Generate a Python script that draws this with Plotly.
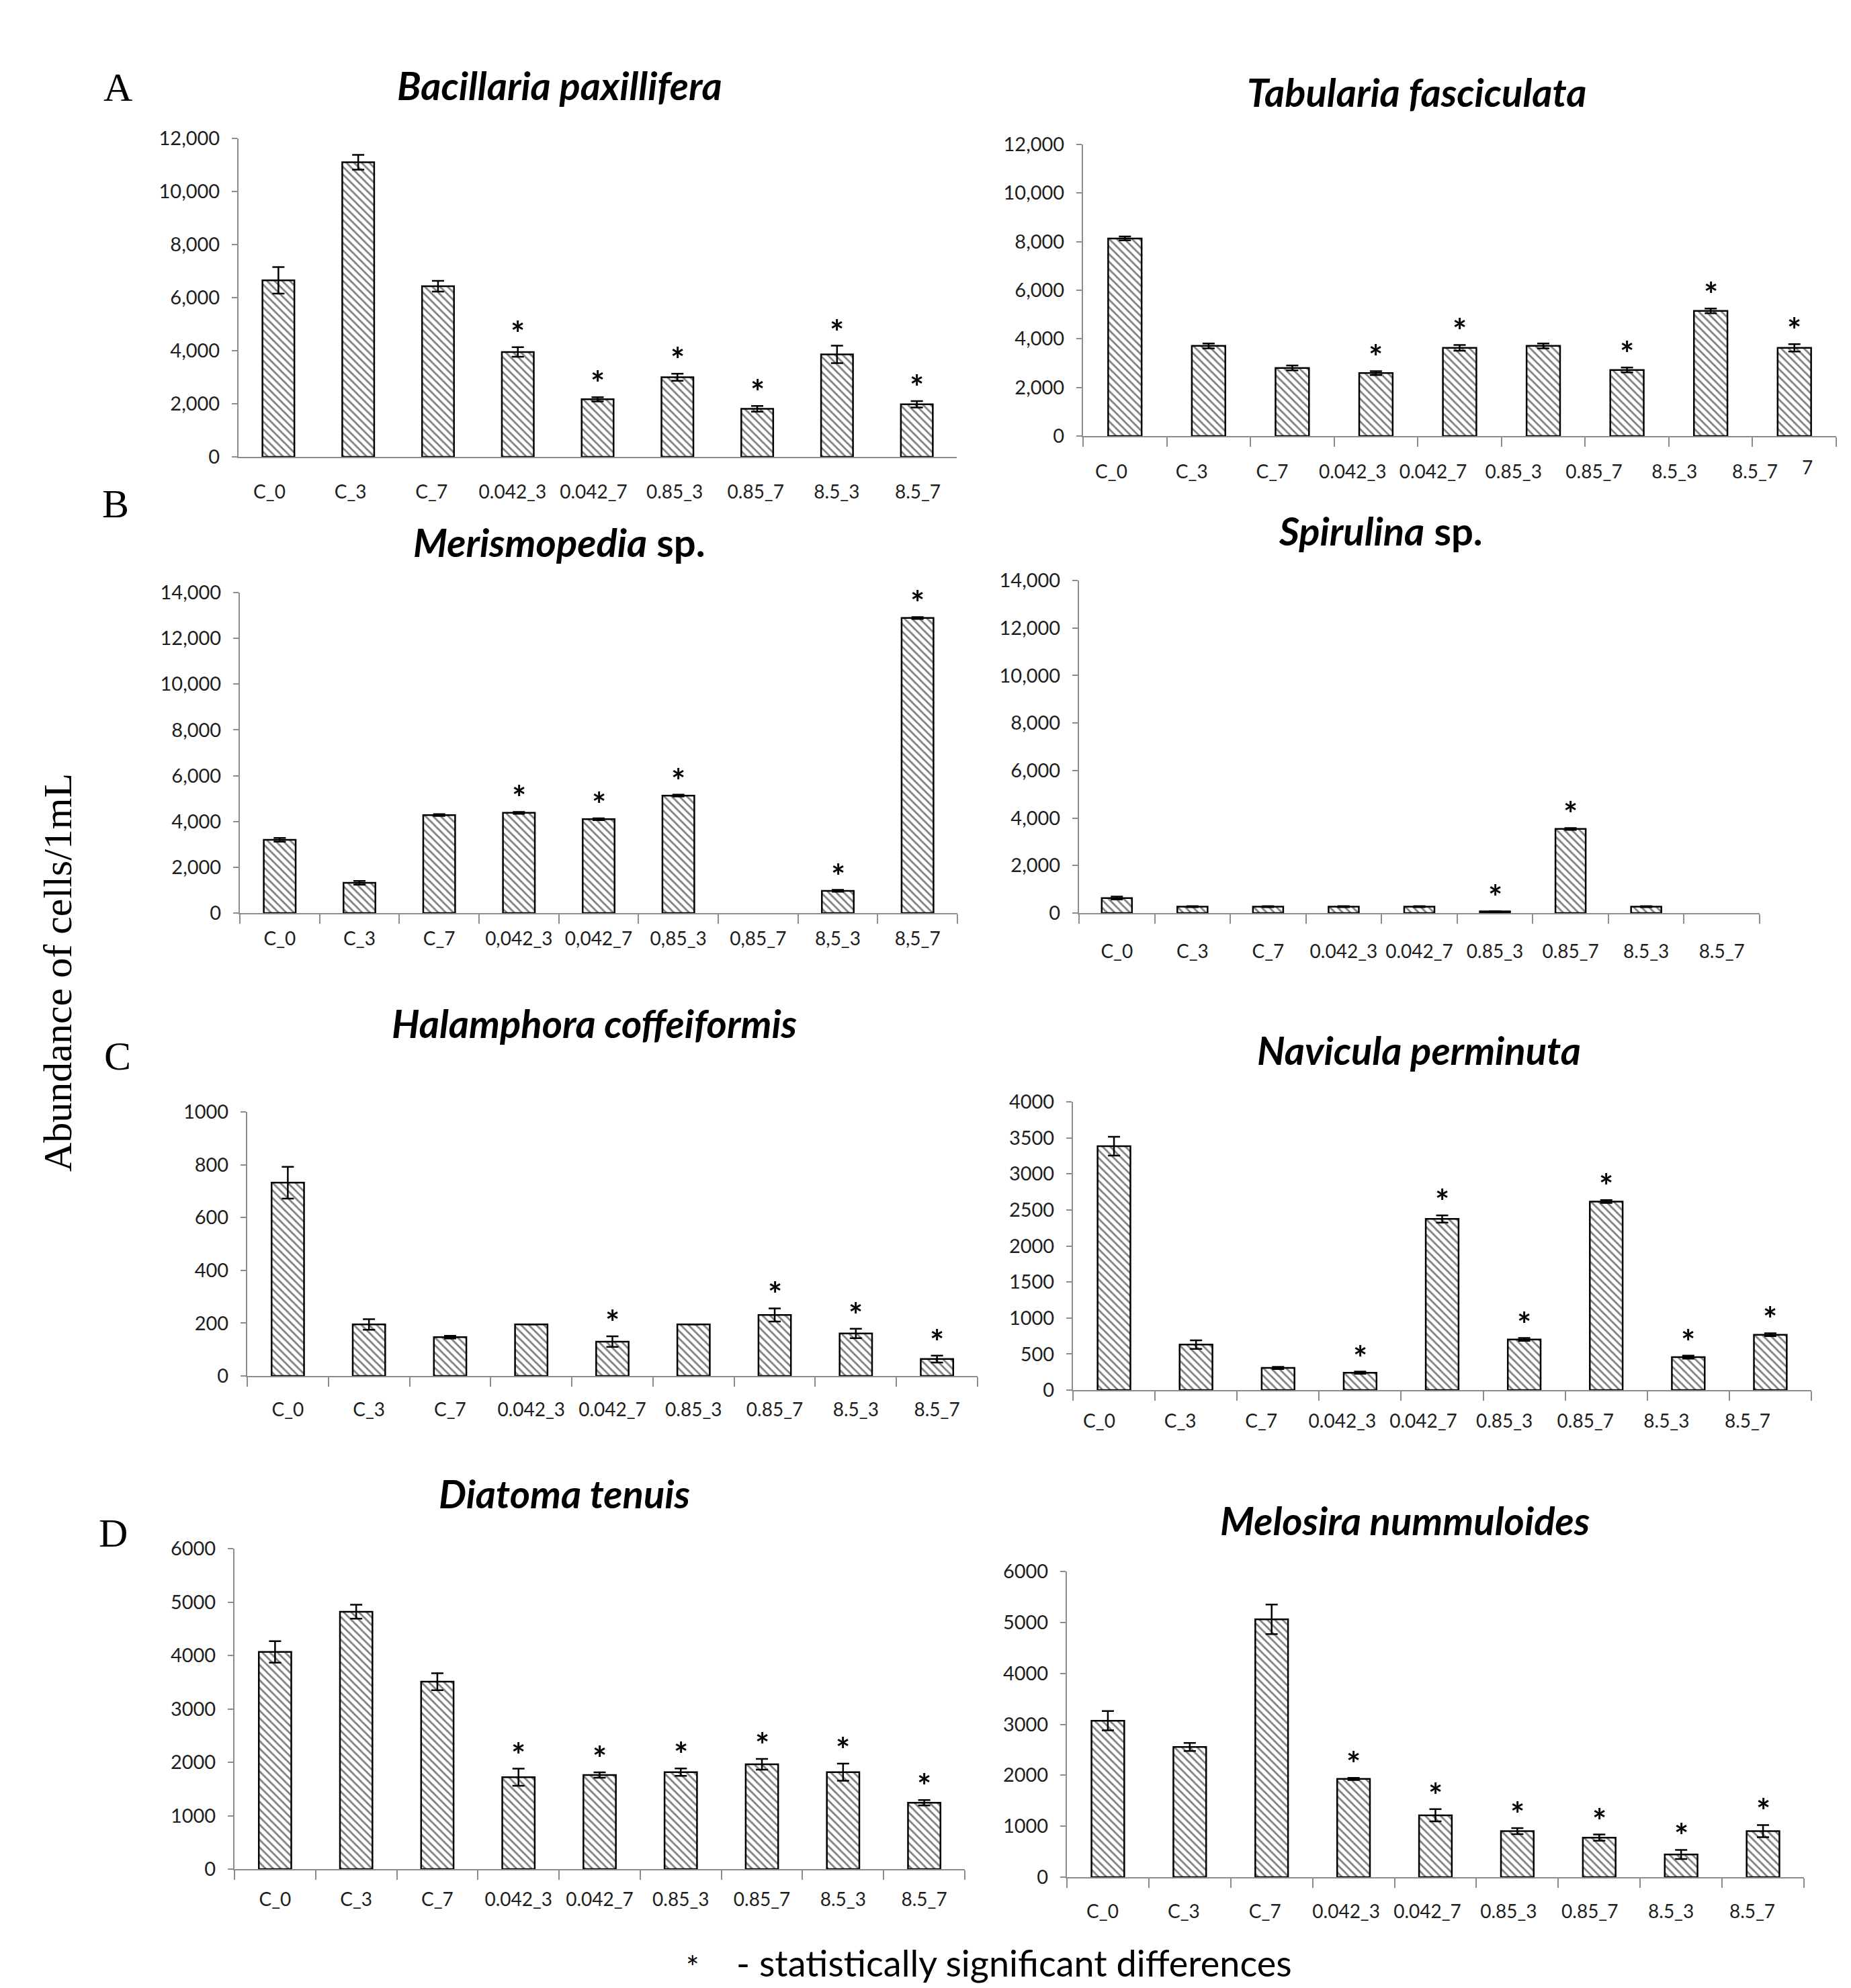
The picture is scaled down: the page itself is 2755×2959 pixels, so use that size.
import plotly.graph_objects as go

W, H = 2755, 2959

categories = ["C_0", "C_3", "C_7", "0.042_3", "0.042_7", "0.85_3", "0.85_7", "8.5_3", "8.5_7"]
categories_comma = ["C_0", "C_3", "C_7", "0,042_3", "0,042_7", "0,85_3", "0,85_7", "8,5_3", "8,5_7"]

bacillaria_mean = [6650, 11100, 6430, 3950, 2170, 3000, 1810, 3860, 1980]
bacillaria_err = [500, 280, 200, 180, 80, 130, 110, 330, 120]
bacillaria_sig = [0, 0, 0, 1, 1, 1, 1, 1, 1]

tabularia_mean = [8130, 3710, 2800, 2590, 3630, 3710, 2720, 5150, 3630]
tabularia_err = [80, 100, 100, 80, 120, 100, 100, 100, 150]
tabularia_sig = [0, 0, 0, 1, 1, 0, 1, 1, 1]

merismopedia_mean = [3200, 1320, 4280, 4380, 4100, 5130, None, 970, 12890]
merismopedia_err = [80, 80, 40, 40, 40, 40, 0, 40, 40]
merismopedia_sig = [0, 0, 0, 1, 1, 1, 0, 1, 1]

spirulina_mean = [630, 270, 270, 270, 270, 70, 3540, 270, None]
spirulina_err = [60, 20, 20, 20, 20, 10, 40, 20, 0]
spirulina_sig = [0, 0, 0, 0, 0, 1, 1, 0, 0]

halamphora_mean = [732, 195, 147, 195, 130, 195, 231, 161, 64]
halamphora_err = [60, 20, 5, 0, 20, 0, 25, 18, 13]
halamphora_sig = [0, 0, 0, 0, 1, 0, 1, 1, 1]

navicula_mean = [3385, 631, 307, 241, 2375, 702, 2616, 457, 768]
navicula_err = [130, 60, 15, 15, 50, 20, 20, 20, 20]
navicula_sig = [0, 0, 0, 1, 1, 1, 1, 1, 1]

diatoma_mean = [4066, 4819, 3508, 1720, 1760, 1815, 1962, 1815, 1243]
diatoma_err = [200, 130, 160, 160, 50, 70, 100, 160, 50]
diatoma_sig = [0, 0, 0, 1, 1, 1, 1, 1, 1]

melosira_mean = [3070, 2555, 5060, 1927, 1214, 903, 776, 445, 903]
melosira_err = [190, 80, 290, 20, 120, 60, 60, 90, 120]
melosira_sig = [0, 0, 0, 1, 1, 1, 1, 1, 1]

# layout per panel: plot box (x0, x1, ytop, ybottom) in px, title centre, x-ticks shown,
# label span (first, last label centre in px, or None = centred on bars), label offset below axis
panels = [
    dict(title="<b><i>Bacillaria paxillifera</i></b>", cats=categories, mean=bacillaria_mean,
         err=bacillaria_err, sig=bacillaria_sig, ymax=12000, dtick=2000, fmt=",d",
         box=(355, 1424, 206, 680), tpos=(833, 127), xticks=False, lspan=(401, 1366), loff=45),
    dict(title="<b><i>Tabularia fasciculata</i></b>", cats=categories, mean=tabularia_mean,
         err=tabularia_err, sig=tabularia_sig, ymax=12000, dtick=2000, fmt=",d",
         box=(1612, 2733, 215, 649), tpos=(2108, 136), xticks=True, lspan=(1654, 2612), loff=46),
    dict(title="<b><i>Merismopedia</i> sp.</b>", cats=categories_comma, mean=merismopedia_mean,
         err=merismopedia_err, sig=merismopedia_sig, ymax=14000, dtick=2000, fmt=",d",
         box=(357, 1425, 882, 1359), tpos=(833, 807), xticks=True, lspan=None, loff=38),
    dict(title="<b><i>Spirulina</i> sp.</b>", cats=categories, mean=spirulina_mean,
         err=spirulina_err, sig=spirulina_sig, ymax=14000, dtick=2000, fmt=",d",
         box=(1606, 2619, 864, 1359), tpos=(2055, 789), xticks=True, lspan=None, loff=57),
    dict(title="<b><i>Halamphora coffeiformis</i></b>", cats=categories, mean=halamphora_mean,
         err=halamphora_err, sig=halamphora_sig, ymax=1000, dtick=200, fmt="d",
         box=(368, 1455, 1655, 2048), tpos=(884, 1522), xticks=True, lspan=None, loff=50),
    dict(title="<b><i>Navicula perminuta</i></b>", cats=categories, mean=navicula_mean,
         err=navicula_err, sig=navicula_sig, ymax=4000, dtick=500, fmt="d",
         box=(1597, 2696, 1640, 2069), tpos=(2112, 1562), xticks=True, lspan=(1636, 2601), loff=39),
    dict(title="<b><i>Diatoma tenuis</i></b>", cats=categories, mean=diatoma_mean,
         err=diatoma_err, sig=diatoma_sig, ymax=6000, dtick=1000, fmt="d",
         box=(349, 1436, 2305, 2782), tpos=(840, 2222), xticks=True, lspan=None, loff=45),
    dict(title="<b><i>Melosira nummuloides</i></b>", cats=categories, mean=melosira_mean,
         err=melosira_err, sig=melosira_sig, ymax=6000, dtick=1000, fmt="d",
         box=(1588, 2685, 2339, 2794), tpos=(2091, 2262), xticks=True, lspan=(1641, 2608), loff=44),
]

FONT = "Lato, Roboto, sans-serif"
SERIF = "Liberation Serif, Times New Roman, serif"
AXIS_GRAY = "#8c8c8c"
TXT = "#1e1e1e"
TICKLEN = 14

fig = go.Figure()
annotations = []
layout = {}
extra_axis = 9

for i, p in enumerate(panels, start=1):
    x0, x1, yt, yb = p["box"]
    cats = p["cats"]
    xa = "x" if i == 1 else f"x{i}"
    ya = "y" if i == 1 else f"y{i}"
    xkey = "xaxis" if i == 1 else f"xaxis{i}"
    ykey = "yaxis" if i == 1 else f"yaxis{i}"
    fig.add_trace(go.Bar(
        x=cats, y=p["mean"], xaxis=xa, yaxis=ya,
        marker=dict(color="white",
                    pattern=dict(shape="\\", fgcolor="black", bgcolor="white", size=8, solidity=0.35),
                    line=dict(color="black", width=2.5)),
        error_y=dict(type="data", array=p["err"], color="black", thickness=2.5, width=9),
        showlegend=False, hoverinfo="skip",
    ))
    own_labels = p["lspan"] is None
    layout[xkey] = dict(
        domain=[x0 / W, x1 / W], anchor=ya, type="category",
        categoryorder="array", categoryarray=cats, range=[-0.5, len(cats) - 0.5],
        showline=True, linecolor=AXIS_GRAY, linewidth=2,
        ticks="outside" if p["xticks"] else "", tickson="boundaries", ticklen=TICKLEN,
        tickcolor=AXIS_GRAY, tickwidth=2, tickangle=0,
        showticklabels=own_labels,
        ticklabelstandoff=max(p["loff"] - 12 - TICKLEN, 0),
        tickfont=dict(family=FONT, size=28, color=TXT),
        showgrid=False, zeroline=False, fixedrange=True, automargin=False,
    )
    if not own_labels:
        # label-only axis sharing the panel, so the category names sit where the reference has them
        lf, ll = p["lspan"]
        step = (ll - lf) / (len(cats) - 1)
        r0 = -(lf - x0) / step
        r1 = r0 + (x1 - x0) / step
        lx = f"x{extra_axis}"
        layout[f"xaxis{extra_axis}"] = dict(
            overlaying=xa, anchor=ya, type="linear", range=[r0, r1],
            tickmode="array", tickvals=list(range(len(cats))), ticktext=cats,
            showline=False, ticks="", ticklen=0, tickangle=0,
            ticklabelstandoff=p["loff"] - 12,
            tickfont=dict(family=FONT, size=28, color=TXT),
            showgrid=False, zeroline=False, fixedrange=True, automargin=False,
        )
        fig.add_trace(go.Scatter(
            x=list(range(len(cats))), y=[0] * len(cats), xaxis=lx, yaxis=ya,
            mode="markers", marker=dict(opacity=0, size=1),
            showlegend=False, hoverinfo="skip",
        ))
        extra_axis += 1
    layout[ykey] = dict(
        domain=[1 - yb / H, 1 - yt / H], anchor=xa, range=[0, p["ymax"]],
        dtick=p["dtick"], tick0=0, tickformat=p["fmt"],
        showline=True, linecolor=AXIS_GRAY, linewidth=2,
        ticks="outside", ticklen=8, tickcolor=AXIS_GRAY, tickwidth=2,
        ticklabelstandoff=12,
        tickfont=dict(family=FONT, size=29, color=TXT),
        showgrid=False, zeroline=False, fixedrange=True, automargin=False,
    )
    annotations.append(dict(
        x=p["tpos"][0] / W, y=1 - p["tpos"][1] / H, xref="paper", yref="paper",
        text=p["title"], showarrow=False, xanchor="center", yanchor="middle",
        font=dict(family=FONT, size=58, color="black"),
    ))
    for c, m, e, s in zip(cats, p["mean"], p["err"], p["sig"]):
        if s and m is not None:
            annotations.append(dict(
                x=c, y=m + e, xref=xa, yref=ya, text="<b>*</b>", showarrow=False,
                xanchor="center", yanchor="bottom", yshift=-11,
                font=dict(family=FONT, size=50, color="black"),
            ))

# stray label to the right of the Tabularia axis labels
annotations.append(dict(x=2700 / W, y=1 - 676 / H, xref="paper", yref="paper", text="7",
                        showarrow=False, font=dict(family=FONT, size=28, color=TXT)))

panel_letters = [("A", 176, 130), ("B", 172, 750), ("C", 175, 1572), ("D", 168, 2282)]
for letter, px, py in panel_letters:
    annotations.append(dict(x=px / W, y=1 - py / H, xref="paper", yref="paper", text=letter,
                            showarrow=False, xanchor="center", yanchor="middle",
                            font=dict(family=SERIF, size=60, color="black")))

annotations.append(dict(x=86 / W, y=1 - 1448 / H, xref="paper", yref="paper",
                        text="Abundance of cells/1mL", textangle=-90, showarrow=False,
                        xanchor="center", yanchor="middle",
                        font=dict(family=SERIF, size=60, color="black")))

annotations.append(dict(x=1031 / W, y=1 - 2927 / H, xref="paper", yref="paper", text="*",
                        showarrow=False, xanchor="center", yanchor="middle",
                        font=dict(family=FONT, size=46, color="black")))
annotations.append(dict(x=1094 / W, y=1 - 2921 / H, xref="paper", yref="paper",
                        text="- statistically significant differences",
                        showarrow=False, xanchor="left", yanchor="middle",
                        font=dict(family=FONT, size=54, color="black")))

fig.update_layout(
    width=W, height=H, margin=dict(l=0, r=0, t=0, b=0, autoexpand=False),
    paper_bgcolor="white", plot_bgcolor="white",
    bargap=0.6, showlegend=False, annotations=annotations, **layout,
)

fig.write_html(
    "out.html",
    config={"displayModeBar": False},
    post_script="document.body.style.margin='0';document.body.style.padding='0';",
)
